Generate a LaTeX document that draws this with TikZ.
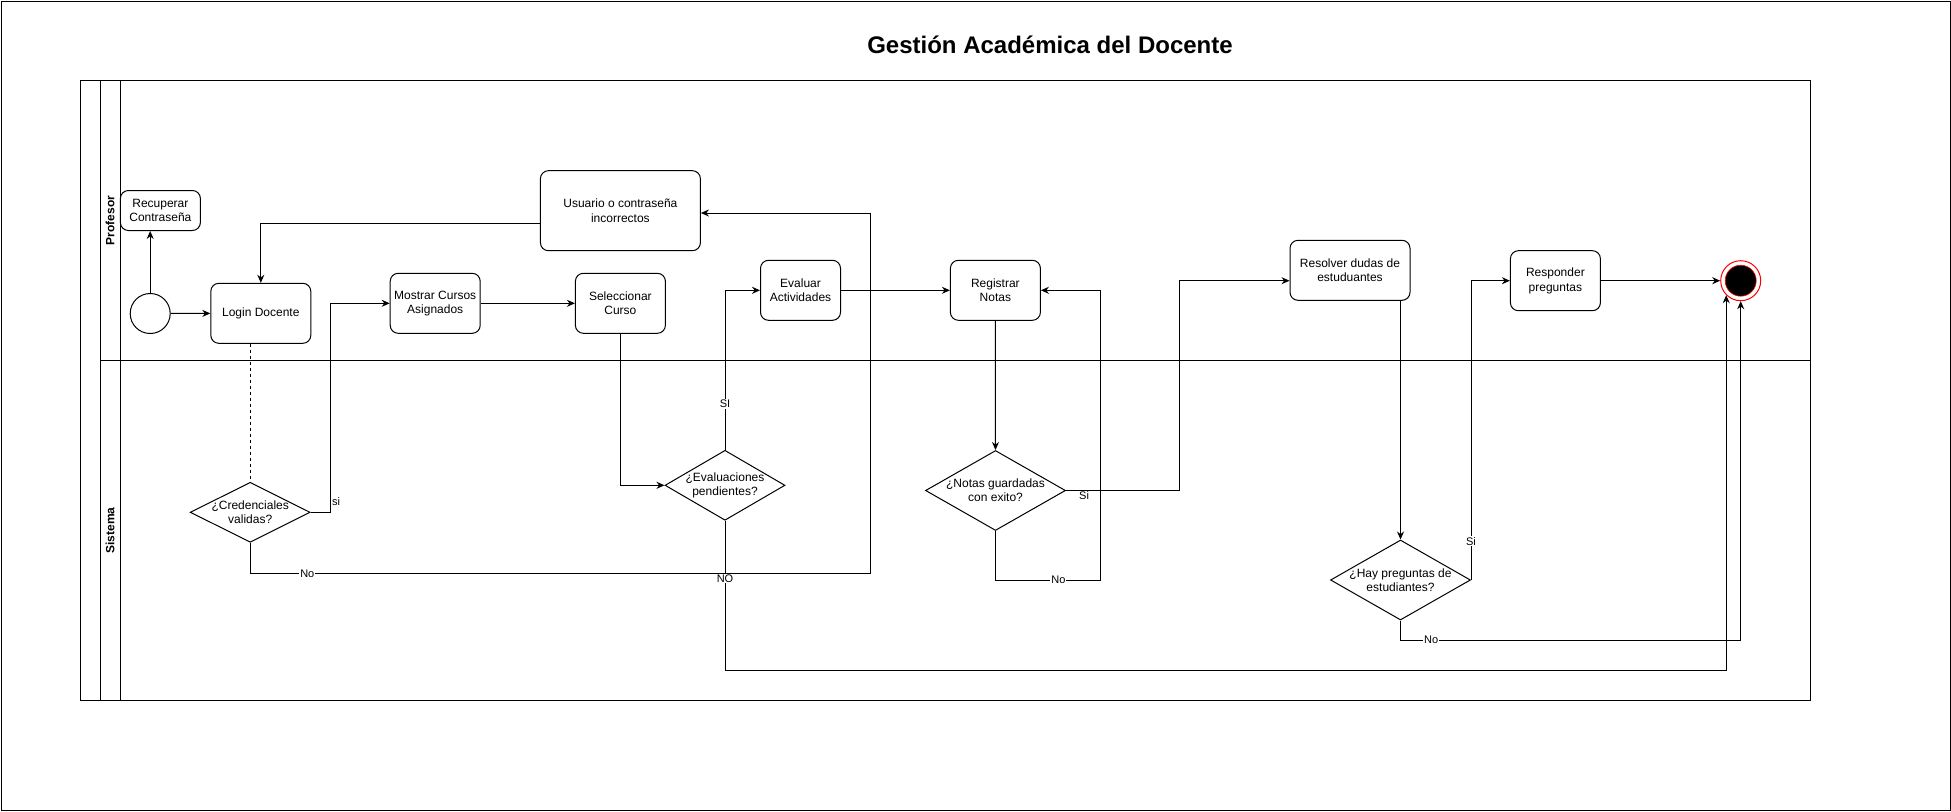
\documentclass[tikz,border=0pt]{standalone}
\usepackage{fontspec}
\setmainfont{Liberation Sans}
\usetikzlibrary{shapes.geometric,arrows.meta}

\begin{document}
\begin{tikzpicture}[x=1pt,y=-1pt,line width=1pt,
    >={Stealth[length=8pt,width=7pt]},
    every node/.style={font=\fontsize{12}{14.4}\selectfont,align=center},
    accion/.style={draw,rounded corners=8pt,fill=white,inner sep=0pt},
    decision/.style={draw,diamond,fill=white,inner sep=0pt},
    inicio/.style={draw,circle,fill=white,minimum size=40pt,inner sep=0pt},
    final/.style={draw=red,circle,fill=white,minimum size=40pt,inner sep=0pt,
      path picture={\draw[red,line width=0.6pt,fill=black]
        (path picture bounding box.center) circle (15.5pt);}},
    lbl/.style={fill=white,inner sep=1pt,font=\fontsize{11}{13}\selectfont},
    carril/.style={rotate=90,font=\bfseries\fontsize{12}{14.4}\selectfont}]
  \useasboundingbox (0,0) rectangle (1951,811);
  \draw (1,1) rectangle (1950,810);
  \node[font=\bfseries\fontsize{24}{28}\selectfont] (titulo) at (1050,44.8)
    {Gestión Académica del Docente};
  % pool and lanes
  \draw (80,80) rectangle (1810,700);
  \draw (100,80) -- (100,700);
  \draw (120,80) -- (120,700);
  \draw (100,360.8) -- (1810,360.8);
  \draw
    (110,220.4) node[carril] (profesor){Profesor}
    (110,530.4) node[carril] (sistema){Sistema};
  \draw
    (150.2,313.5) node[inicio] (inicio){}
    (160.4,210.5) node[accion,minimum width=80pt,minimum height=40pt] (recup){Recuperar\\Contraseña}
    (260.8,313.3) node[accion,minimum width=100pt,minimum height=60pt] (login){Login Docente}
    (620.4,210.7) node[accion,minimum width=160pt,minimum height=80pt] (usuario){Usuario o contraseña\\incorrectos}
    (435.2,303.3) node[accion,minimum width=90pt,minimum height=60pt] (cursos){Mostrar Cursos\\Asignados}
    (620.4,303.3) node[accion,minimum width=90pt,minimum height=60pt] (selec){Seleccionar\\Curso}
    (800.5,290.3) node[accion,minimum width=80pt,minimum height=60pt] (evaluar){Evaluar\\Actividades}
    (995.4,290.3) node[accion,minimum width=90pt,minimum height=60pt] (registrar){Registrar\\Notas}
    (1350,270.3) node[accion,minimum width=120pt,minimum height=60pt] (resolver){Resolver dudas de\\estuduantes}
    (1555.4,280.7) node[accion,minimum width=90pt,minimum height=60pt] (responder){Responder\\preguntas}
    (1740.7,280.7) node[final] (fin){};
  \draw
    (250.2,512.3) node[decision,minimum width=120pt,minimum height=60pt,
      label=center:{¿Credenciales\\validas?}] (credq){}
    (725,485.3) node[decision,minimum width=120pt,minimum height=70pt,
      label=center:{¿Evaluaciones\\pendientes?}] (evalq){}
    (995.5,490.5) node[decision,minimum width=140pt,minimum height=80pt,
      label=center:{¿Notas guardadas\\con exito?}] (notasq){}
    (1400.5,580) node[decision,minimum width=140pt,minimum height=80pt,
      label=center:{¿Hay preguntas de\\estudiantes?}] (hayq){};
  \begin{scope}[->]
    \draw (inicio) -- (login);
    \draw (inicio) -- (inicio |- recup.south);
    \draw ([yshift=-12.6pt]usuario.west) -| (login.north);
    \draw[-,dashed] (credq.north |- login.south) -- (credq.north);
    \draw (credq.east) -- ++(20,0) node[lbl,fill=none,anchor=south west,yshift=5pt]{si} |- (cursos.west);
    \draw (credq.south) |- node[lbl,pos=0.546]{No} (870.8,573.6) |- ([yshift=-2.3pt]usuario.east);
    \draw (cursos) -- (selec);
    \draw (selec.south) |- (evalq.west);
    \draw (evalq.north) |- node[lbl,pos=0.144]{SI} (evaluar.west);
    \draw (evalq.south) |- node[lbl,pos=0.193]{NO} (fin.-135 |- 0,670.4) -- (fin.-135);
    \draw (evaluar) -- (registrar);
    \draw (registrar) -- (notasq);
    \draw (notasq.east) -- node[lbl,pos=0.16,anchor=north,fill=none]{Si} ++(113,0) |- ([yshift=-10.4pt]resolver.west);
    \draw (notasq.south) |- node[lbl,pos=0.8]{No} (1100.3,580) |- (registrar.east);
    \draw (hayq.north |- resolver.south) -- (hayq.north);
    \draw (hayq.east) |- node[lbl,pos=0.065]{Si} (responder.west);
    \draw (hayq.south) |- node[lbl,pos=0.545]{No} (fin.south |- 0,640) -- (fin.south);
    \draw (responder) -- (fin);
  \end{scope}
\end{tikzpicture}
\end{document}
